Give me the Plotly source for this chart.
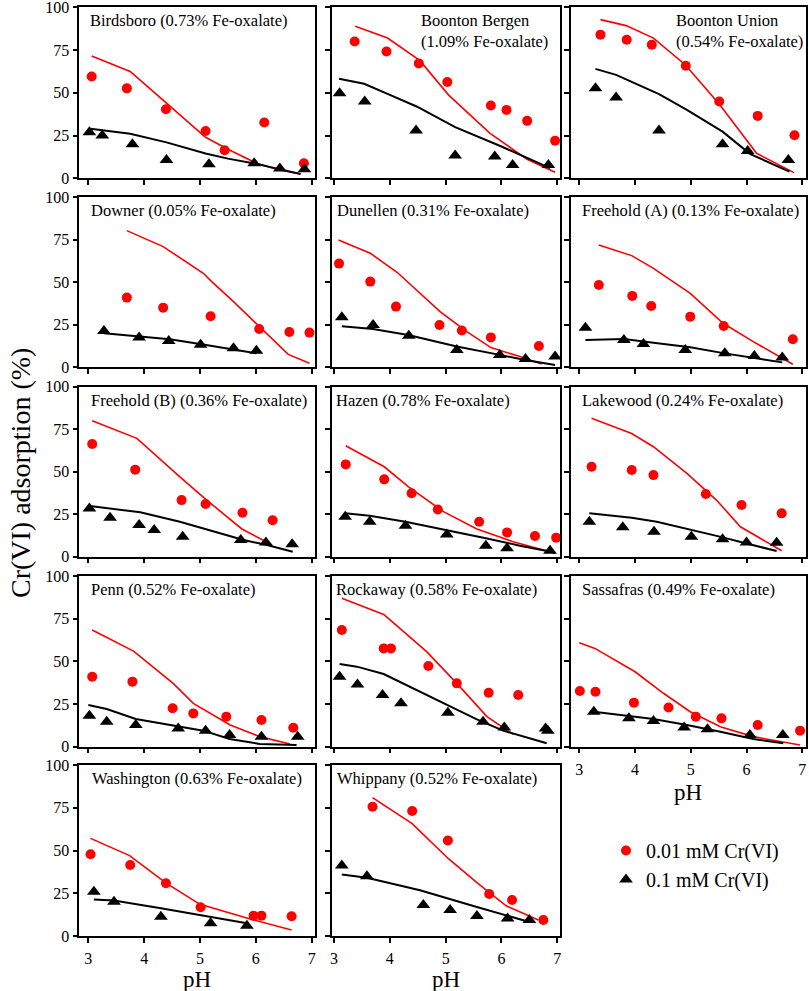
import plotly.graph_objects as go

W, H = 809, 991

# ---------------- data (pH, adsorption %) ----------------
birdsboro_red_ph = [3.06, 3.69, 4.39, 5.10, 5.44, 6.15, 6.86]
birdsboro_red_ads = [59.5, 52.6, 40.4, 27.7, 16.4, 32.6, 8.8]
birdsboro_blk_ph = [3.02, 3.25, 3.79, 4.40, 5.16, 5.97, 6.43, 6.87]
birdsboro_blk_ads = [27.0, 25.0, 19.9, 10.7, 8.2, 8.8, 5.8, 5.3]
birdsboro_redfit_ph = [3.06, 3.75, 4.4, 5.1, 5.5, 6.0, 6.4, 6.8]
birdsboro_redfit_ads = [71.5, 62.5, 44.0, 24.0, 17.0, 9.0, 5.0, 2.5]
birdsboro_blkfit_ph = [3.04, 3.75, 4.4, 5.1, 5.5, 6.0, 6.4, 6.8]
birdsboro_blkfit_ads = [29.0, 26.0, 21.0, 14.5, 11.5, 8.5, 5.5, 2.5]

bergen_red_ph = [3.37, 3.94, 4.52, 5.03, 5.81, 6.09, 6.46, 6.96]
bergen_red_ads = [80.0, 74.2, 67.2, 56.3, 42.6, 40.0, 33.6, 22.0]
bergen_blk_ph = [3.10, 3.55, 4.47, 5.17, 5.88, 6.20, 6.84]
bergen_blk_ads = [49.8, 44.9, 27.9, 13.3, 12.7, 7.8, 7.8]
bergen_redfit_ph = [3.38, 3.96, 4.54, 5.05, 5.79, 6.45, 6.96]
bergen_redfit_ads = [88.9, 82.0, 68.8, 48.8, 26.4, 11.3, 3.5]
bergen_blkfit_ph = [3.09, 3.54, 4.0, 4.48, 5.17, 6.0, 6.87]
bergen_blkfit_ads = [58.2, 55.3, 48.8, 42.0, 29.9, 18.6, 5.9]

union_red_ph = [3.38, 3.85, 4.30, 4.91, 5.51, 6.20, 6.86]
union_red_ads = [84.0, 81.0, 78.1, 65.8, 44.9, 36.5, 25.2]
union_blk_ph = [3.29, 3.66, 4.43, 5.57, 6.02, 6.75]
union_blk_ads = [52.7, 47.3, 27.9, 19.9, 16.0, 10.7]
union_redfit_ph = [3.38, 3.84, 4.33, 4.9, 5.52, 6.18, 6.85]
union_redfit_ads = [92.8, 89.3, 82.0, 66.4, 43.0, 14.6, 3.3]
union_blkfit_ph = [3.29, 3.66, 4.43, 4.93, 5.57, 6.06, 6.77]
union_blkfit_ads = [64.0, 60.5, 49.2, 40.0, 27.3, 14.3, 3.9]

downer_red_ph = [3.69, 4.34, 5.19, 6.06, 6.60, 6.96]
downer_red_ads = [41.0, 35.1, 30.0, 22.5, 20.8, 20.4]
downer_blk_ph = [3.28, 3.91, 4.44, 5.01, 5.60, 6.01]
downer_blk_ads = [21.4, 17.6, 15.5, 13.3, 11.2, 9.8]
downer_redfit_ph = [3.69, 4.34, 5.06, 5.21, 5.6, 6.07, 6.58, 6.96]
downer_redfit_ads = [80.4, 71.0, 55.3, 50.4, 38.6, 23.9, 7.6, 2.4]
downer_blkfit_ph = [3.28, 3.93, 4.46, 5.0, 5.6, 6.01]
downer_blkfit_ads = [20.0, 18.0, 16.5, 13.7, 10.6, 8.2]

dunellen_red_ph = [3.09, 3.65, 4.11, 4.89, 5.29, 5.81, 6.67]
dunellen_red_ads = [61.0, 50.4, 35.7, 24.9, 21.6, 17.6, 12.5]
dunellen_blk_ph = [3.14, 3.70, 4.34, 5.20, 5.97, 6.43, 6.96]
dunellen_blk_ads = [29.4, 24.9, 18.6, 10.2, 7.3, 4.9, 6.3]
dunellen_redfit_ph = [3.08, 3.65, 4.13, 4.90, 5.38, 5.81, 6.33, 6.72]
dunellen_redfit_ads = [74.9, 67.1, 55.9, 32.7, 21.0, 11.6, 6.3, 2.0]
dunellen_blkfit_ph = [3.14, 3.70, 4.33, 5.2, 5.97, 6.43, 6.96]
dunellen_blkfit_ads = [24.1, 22.5, 19.0, 12.2, 7.3, 4.3, 1.4]

freeholda_red_ph = [3.35, 3.95, 4.29, 4.99, 5.59, 6.83]
freeholda_red_ads = [48.4, 42.0, 36.1, 29.8, 24.3, 16.5]
freeholda_blk_ph = [3.11, 3.80, 4.15, 4.90, 5.61, 6.14, 6.64]
freeholda_blk_ads = [23.3, 16.1, 13.7, 10.2, 8.2, 6.7, 5.7]
freeholda_redfit_ph = [3.35, 3.94, 4.33, 4.99, 5.58, 6.12, 6.83]
freeholda_redfit_ads = [72.0, 65.7, 58.2, 43.5, 25.9, 15.1, 1.8]
freeholda_blkfit_ph = [3.11, 3.8, 4.33, 4.99, 5.61, 6.14, 6.64]
freeholda_blkfit_ads = [16.1, 16.7, 14.5, 11.8, 8.2, 5.3, 2.9]

freeholdb_red_ph = [3.07, 3.84, 4.67, 5.10, 5.76, 6.30]
freeholdb_red_ads = [66.3, 51.2, 33.3, 31.0, 25.9, 21.4]
freeholdb_blk_ph = [3.02, 3.39, 3.91, 4.18, 4.69, 5.73, 6.18, 6.65]
freeholdb_blk_ads = [28.4, 22.9, 18.6, 15.7, 11.8, 9.8, 8.4, 7.3]
freeholdb_redfit_ph = [3.07, 3.87, 4.67, 5.12, 5.75, 6.29]
freeholdb_redfit_ads = [80.0, 69.6, 46.1, 33.3, 16.3, 6.9]
freeholdb_blkfit_ph = [3.03, 3.39, 3.93, 4.64, 5.24, 5.78, 6.2, 6.66]
freeholdb_blkfit_ads = [29.8, 28.4, 26.1, 20.6, 14.7, 9.8, 6.9, 2.9]

hazen_red_ph = [3.21, 3.90, 4.39, 4.86, 5.60, 6.10, 6.60, 6.98]
hazen_red_ads = [54.3, 45.5, 37.3, 27.8, 20.6, 14.3, 12.2, 11.2]
hazen_blk_ph = [3.20, 3.64, 4.28, 5.02, 5.72, 6.10, 6.87]
hazen_blk_ads = [23.5, 20.6, 18.2, 13.1, 6.5, 4.9, 3.5]
hazen_redfit_ph = [3.21, 3.90, 4.33, 4.96, 5.56, 6.21, 6.96]
hazen_redfit_ads = [65.3, 52.9, 41.2, 26.5, 16.3, 8.8, 2.0]
hazen_blkfit_ph = [3.20, 3.64, 4.28, 5.02, 5.72, 6.33, 6.96]
hazen_blkfit_ads = [25.5, 24.1, 20.6, 15.7, 10.8, 6.5, 2.5]

lakewood_red_ph = [3.22, 3.94, 4.33, 5.27, 5.91, 6.63]
lakewood_red_ads = [52.9, 51.0, 48.0, 36.9, 30.4, 25.5]
lakewood_blk_ph = [3.18, 3.78, 4.34, 5.01, 5.57, 6.00, 6.54]
lakewood_blk_ads = [20.6, 17.3, 14.7, 11.8, 10.2, 8.4, 8.2]
lakewood_redfit_ph = [3.22, 3.94, 4.33, 4.93, 5.46, 5.89, 6.63]
lakewood_redfit_ads = [81.4, 72.5, 64.7, 49.0, 33.3, 17.6, 3.5]
lakewood_blkfit_ph = [3.18, 3.94, 4.39, 5.04, 5.52, 6.0, 6.54]
lakewood_blkfit_ads = [25.5, 22.9, 20.6, 15.7, 11.8, 7.8, 3.3]

penn_red_ph = [3.07, 3.79, 4.51, 4.88, 5.47, 6.10, 6.67]
penn_red_ads = [41.0, 38.1, 22.5, 19.5, 17.6, 15.6, 11.1]
penn_blk_ph = [3.02, 3.33, 3.85, 4.61, 5.10, 5.53, 6.10, 6.75]
penn_blk_ads = [18.2, 14.6, 12.7, 10.7, 9.4, 6.8, 5.9, 5.9]
penn_redfit_ph = [3.07, 3.81, 4.52, 4.88, 5.54, 6.07, 6.61]
penn_redfit_ads = [68.4, 56.0, 37.1, 25.4, 12.7, 5.9, 1.6]
penn_blkfit_ph = [3.0, 3.33, 3.85, 4.58, 5.06, 5.53, 6.07, 6.73]
penn_blkfit_ads = [24.4, 22.1, 16.2, 12.3, 9.4, 4.5, 1.6, 1.0]

rockaway_red_ph = [3.14, 3.89, 4.02, 4.69, 5.20, 5.77, 6.30]
rockaway_red_ads = [68.4, 57.6, 57.6, 47.3, 37.1, 31.6, 30.3]
rockaway_blk_ph = [3.10, 3.42, 3.87, 4.20, 5.04, 5.67, 6.05, 6.79, 6.83]
rockaway_blk_ads = [41.0, 36.5, 30.3, 25.4, 19.9, 14.6, 11.3, 10.7, 9.4]
rockaway_redfit_ph = [3.14, 3.89, 4.03, 4.66, 5.20, 5.74, 6.21]
rockaway_redfit_ads = [86.9, 77.5, 73.6, 55.7, 37.1, 17.6, 7.2]
rockaway_blkfit_ph = [3.10, 3.41, 3.89, 4.36, 5.02, 5.55, 6.03, 6.81]
rockaway_blkfit_ads = [48.4, 46.9, 42.6, 35.2, 24.8, 16.2, 9.4, 2.0]

sassafras_red_ph = [3.01, 3.29, 3.98, 4.60, 5.09, 5.55, 6.20, 6.96]
sassafras_red_ads = [32.6, 32.2, 25.8, 23.0, 17.6, 16.6, 12.7, 9.4]
sassafras_blk_ph = [3.26, 3.89, 4.33, 4.88, 5.30, 6.06, 6.65]
sassafras_blk_ads = [20.5, 16.6, 15.0, 11.3, 10.2, 6.8, 6.8]
sassafras_redfit_ph = [3.0, 3.28, 4.0, 4.51, 4.99, 5.53, 6.12, 6.96]
sassafras_redfit_ads = [60.9, 57.6, 43.9, 31.3, 20.5, 11.7, 5.9, 1.0]
sassafras_blkfit_ph = [3.26, 3.91, 4.33, 4.93, 5.53, 6.12, 6.66]
sassafras_blkfit_ads = [20.5, 18.0, 16.2, 12.7, 8.8, 4.5, 2.0]

washington_red_ph = [3.04, 3.75, 4.39, 5.01, 5.96, 6.10, 6.64]
washington_red_ads = [47.8, 41.5, 30.8, 16.8, 11.9, 11.9, 11.5]
washington_blk_ph = [3.10, 3.46, 4.30, 5.19, 5.84]
washington_blk_ads = [25.9, 20.1, 11.3, 7.4, 6.0]
washington_redfit_ph = [3.04, 3.74, 4.40, 5.0, 5.96, 6.64]
washington_redfit_ads = [57.1, 47.0, 30.8, 18.5, 9.4, 3.5]
washington_blkfit_ph = [3.10, 3.46, 4.30, 5.19, 5.84]
washington_blkfit_ads = [21.4, 20.7, 16.2, 10.9, 7.4]

whippany_red_ph = [3.69, 4.40, 5.04, 5.78, 6.19, 6.75]
whippany_red_ads = [75.6, 73.1, 55.8, 24.6, 21.1, 9.4]
whippany_blk_ph = [3.14, 3.59, 4.60, 5.08, 5.56, 6.11, 6.50]
whippany_blk_ads = [41.3, 35.0, 18.1, 15.2, 11.7, 10.3, 9.4]
whippany_redfit_ph = [3.69, 4.40, 5.05, 5.56, 6.09, 6.66]
whippany_redfit_ads = [80.9, 65.7, 45.2, 31.2, 17.5, 9.4]
whippany_blkfit_ph = [3.14, 3.59, 4.54, 5.08, 5.56, 6.50]
whippany_blkfit_ads = [35.9, 34.0, 26.7, 21.8, 17.0, 8.2]

site_titles = [
    "Birdsboro (0.73% Fe-oxalate)",
    "Boonton Bergen<br>(1.09% Fe-oxalate)",
    "Boonton Union<br>(0.54% Fe-oxalate)",
    "Downer (0.05% Fe-oxalate)",
    "Dunellen (0.31% Fe-oxalate)",
    "Freehold (A) (0.13% Fe-oxalate)",
    "Freehold (B) (0.36% Fe-oxalate)",
    "Hazen (0.78% Fe-oxalate)",
    "Lakewood (0.24% Fe-oxalate)",
    "Penn (0.52% Fe-oxalate)",
    "Rockaway (0.58% Fe-oxalate)",
    "Sassafras (0.49% Fe-oxalate)",
    "Washington (0.63% Fe-oxalate)",
    "Whippany (0.52% Fe-oxalate)",
]
x_ticks = [3, 4, 5, 6, 7]
y_ticks = [0, 25, 50, 75, 100]
legend_names = ["0.01 mM Cr(VI)", "0.1 mM Cr(VI)"]
y_title = "Cr(VI) adsorption (%)"
x_title = "pH"

panels = [
    (birdsboro_red_ph, birdsboro_red_ads, birdsboro_blk_ph, birdsboro_blk_ads, birdsboro_redfit_ph, birdsboro_redfit_ads, birdsboro_blkfit_ph, birdsboro_blkfit_ads),
    (bergen_red_ph, bergen_red_ads, bergen_blk_ph, bergen_blk_ads, bergen_redfit_ph, bergen_redfit_ads, bergen_blkfit_ph, bergen_blkfit_ads),
    (union_red_ph, union_red_ads, union_blk_ph, union_blk_ads, union_redfit_ph, union_redfit_ads, union_blkfit_ph, union_blkfit_ads),
    (downer_red_ph, downer_red_ads, downer_blk_ph, downer_blk_ads, downer_redfit_ph, downer_redfit_ads, downer_blkfit_ph, downer_blkfit_ads),
    (dunellen_red_ph, dunellen_red_ads, dunellen_blk_ph, dunellen_blk_ads, dunellen_redfit_ph, dunellen_redfit_ads, dunellen_blkfit_ph, dunellen_blkfit_ads),
    (freeholda_red_ph, freeholda_red_ads, freeholda_blk_ph, freeholda_blk_ads, freeholda_redfit_ph, freeholda_redfit_ads, freeholda_blkfit_ph, freeholda_blkfit_ads),
    (freeholdb_red_ph, freeholdb_red_ads, freeholdb_blk_ph, freeholdb_blk_ads, freeholdb_redfit_ph, freeholdb_redfit_ads, freeholdb_blkfit_ph, freeholdb_blkfit_ads),
    (hazen_red_ph, hazen_red_ads, hazen_blk_ph, hazen_blk_ads, hazen_redfit_ph, hazen_redfit_ads, hazen_blkfit_ph, hazen_blkfit_ads),
    (lakewood_red_ph, lakewood_red_ads, lakewood_blk_ph, lakewood_blk_ads, lakewood_redfit_ph, lakewood_redfit_ads, lakewood_blkfit_ph, lakewood_blkfit_ads),
    (penn_red_ph, penn_red_ads, penn_blk_ph, penn_blk_ads, penn_redfit_ph, penn_redfit_ads, penn_blkfit_ph, penn_blkfit_ads),
    (rockaway_red_ph, rockaway_red_ads, rockaway_blk_ph, rockaway_blk_ads, rockaway_redfit_ph, rockaway_redfit_ads, rockaway_blkfit_ph, rockaway_blkfit_ads),
    (sassafras_red_ph, sassafras_red_ads, sassafras_blk_ph, sassafras_blk_ads, sassafras_redfit_ph, sassafras_redfit_ads, sassafras_blkfit_ph, sassafras_blkfit_ads),
    (washington_red_ph, washington_red_ads, washington_blk_ph, washington_blk_ads, washington_redfit_ph, washington_redfit_ads, washington_blkfit_ph, washington_blkfit_ads),
    (whippany_red_ph, whippany_red_ads, whippany_blk_ph, whippany_blk_ads, whippany_redfit_ph, whippany_redfit_ads, whippany_blkfit_ph, whippany_blkfit_ads),
]

# ---------------- layout geometry (pixels) ----------------
FONT = "Liberation Serif, Times New Roman, serif"
RED = "#ff0000"
BLACK = "#000000"
cols = [(79.3, 315.0, 88.3, 311.7), (331.7, 560.0, 334.0, 557.3), (570.7, 806.0, 579.3, 802.3)]
rows = [(7.3, 178.3), (197.3, 367.3), (386.7, 556.7), (576.0, 746.7), (765.0, 936.0)]
title_left = [87.5, 419, 674, 89, 334.5, 580, 88.5, 334, 580, 88.5, 334, 580, 90, 335]
ph_title_offset = {11: 46, 12: 43, 13: 43}

def px2x(px):
    return px / W

def px2y(py):
    return 1 - py / H

fig = go.Figure()
layout = dict(
    template="none",
    width=W, height=H,
    margin=dict(l=0, r=0, t=0, b=0, autoexpand=False),
    paper_bgcolor="white", plot_bgcolor="white",
    font=dict(family=FONT, size=16, color="black"),
    showlegend=True,
    legend=dict(x=px2x(606), y=px2y(865), xanchor="left", yanchor="middle",
                font=dict(family=FONT, size=20, color="black"),
                bgcolor="rgba(0,0,0,0)", borderwidth=0, tracegroupgap=0),
)
annotations = []

for i, (rx, ry, bx, by, rfx, rfy, bfx, bfy) in enumerate(panels):
    r, c = divmod(i, 3)
    left, right, p3, p7 = cols[c]
    top, bot = rows[r]
    ppu = (p7 - p3) / 4.0
    xr = [3 - (p3 - left) / ppu, 3 + (right - p3) / ppu]
    k = "" if i == 0 else str(i + 1)
    xa, ya = "x" + k, "y" + k
    show_xlab = i in ph_title_offset
    show_ylab = c == 0
    layout["xaxis" + k] = dict(
        domain=[px2x(left), px2x(right)], range=xr, anchor=ya, automargin=False,
        tickvals=x_ticks, ticks="outside", ticklen=5, tickwidth=1.5, tickcolor="black",
        showticklabels=show_xlab, showline=True, linecolor="black", linewidth=1.5,
        mirror=True, showgrid=False, zeroline=False, ticklabelstandoff=2,
        ticklabeloverflow="allow",
        tickfont=dict(family=FONT, size=16, color="black"),
    )
    layout["yaxis" + k] = dict(
        domain=[px2y(bot), px2y(top)], range=[0, 100], anchor=xa, automargin=False,
        tickvals=y_ticks, ticks="outside", ticklen=5, tickwidth=1.5, tickcolor="black",
        showticklabels=show_ylab, showline=True, linecolor="black", linewidth=1.5,
        mirror=True, showgrid=False, zeroline=False, ticklabeloverflow="allow",
        tickfont=dict(family=FONT, size=16, color="black"),
    )
    fig.add_trace(go.Scatter(x=rfx, y=rfy, mode="lines", line=dict(color=RED, width=1.6),
                             xaxis=xa, yaxis=ya, showlegend=False, hoverinfo="skip"))
    fig.add_trace(go.Scatter(x=bfx, y=bfy, mode="lines", line=dict(color=BLACK, width=2),
                             xaxis=xa, yaxis=ya, showlegend=False, hoverinfo="skip"))
    fig.add_trace(go.Scatter(x=rx, y=ry, mode="markers", name=legend_names[0],
                             marker=dict(symbol="circle", color=RED, size=10),
                             xaxis=xa, yaxis=ya, showlegend=(i == 0), cliponaxis=False))
    fig.add_trace(go.Scatter(x=bx, y=by, mode="markers", name=legend_names[1],
                             marker=dict(symbol="triangle-up", color=BLACK, size=12),
                             xaxis=xa, yaxis=ya, showlegend=(i == 0), cliponaxis=False))
    annotations.append(dict(
        text=site_titles[i], xref="paper", yref="paper",
        x=px2x(title_left[i]), y=px2y(top + 2), xanchor="left", yanchor="top",
        align="left", showarrow=False,
        font=dict(family=FONT, size=16.5, color="black"),
    ))
    if show_xlab:
        annotations.append(dict(
            text=x_title, xref="paper", yref="paper",
            x=px2x((left + right) / 2), y=px2y(bot + ph_title_offset[i]),
            xanchor="center", yanchor="middle",
            showarrow=False, font=dict(family=FONT, size=23, color="black"),
        ))

annotations.append(dict(
    text=y_title, xref="paper", yref="paper", x=px2x(20), y=px2y(473),
    xanchor="center", yanchor="middle", textangle=-90, showarrow=False,
    font=dict(family=FONT, size=28, color="black"),
))
layout["annotations"] = annotations
fig.update_layout(**layout)
fig.write_html("out.html")
